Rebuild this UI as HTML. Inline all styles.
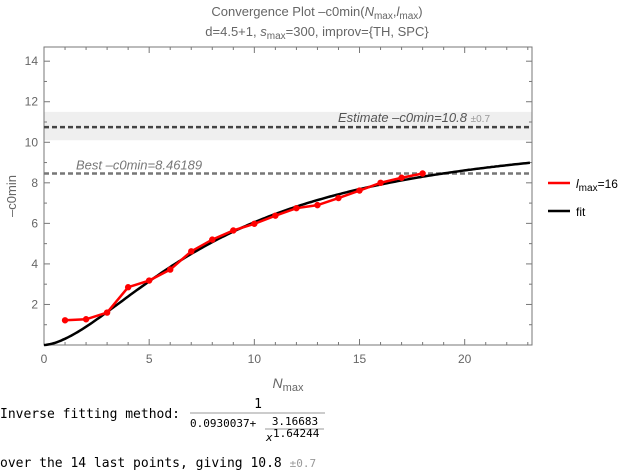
<!DOCTYPE html>
<html><head><meta charset="utf-8"><style>
body{margin:0;background:#fff;width:634px;height:471px;overflow:hidden}
svg text{font-family:"Liberation Sans",sans-serif}
.mono{font-family:"DejaVu Sans Mono","Liberation Mono",monospace;font-size:13px}
</style></head><body>
<svg id="chart" width="634" height="471">
<text x="317" y="16" text-anchor="middle" font-size="13" fill="#666">Convergence Plot –c0min(<tspan font-style="italic">N</tspan><tspan font-size="10" dy="3">max</tspan><tspan dy="-3">,</tspan><tspan font-style="italic">l</tspan><tspan font-size="10" dy="3">max</tspan><tspan dy="-3">)</tspan></text>
<text x="317" y="36" text-anchor="middle" font-size="13" fill="#666">d=4.5+1, <tspan font-style="italic">s</tspan><tspan font-size="10" dy="3">max</tspan><tspan dy="-3">=300, improv={TH, SPC}</tspan></text>
<g id="plot"></g>
<text x="16" y="196" font-size="13" fill="#666" text-anchor="middle" transform="rotate(-90 16 196)">–c0min</text>
<text x="288" y="388" font-size="14" fill="#666" text-anchor="middle"><tspan font-style="italic">N</tspan><tspan font-size="11" dy="3">max</tspan></text>
<g>
<line x1="548" y1="183" x2="570" y2="183" stroke="#f00" stroke-width="2.5"/>
<text x="576" y="188" font-size="12" fill="#000"><tspan font-style="italic">l</tspan><tspan font-size="10" dy="3">max</tspan><tspan dy="-3">=16</tspan></text>
<line x1="548" y1="211" x2="570" y2="211" stroke="#000" stroke-width="2.5"/>
<text x="576" y="216" font-size="12" fill="#000">fit</text>
</g>
<g>
<text x="0" y="418" class="mono">Inverse fitting method:</text>
<text x="258" y="408" class="mono" font-size="11" text-anchor="middle">1</text>
<line x1="190" y1="413" x2="325" y2="413" stroke="#999" stroke-width="1"/>
<text x="190" y="427" class="mono" style="font-size:11px">0.0930037+</text>
<text x="295" y="425" class="mono" style="font-size:11px" text-anchor="middle">3.16683</text>
<line x1="265" y1="429" x2="324" y2="429" stroke="#999" stroke-width="1"/>
<text x="266" y="441" class="mono" style="font-size:11px;font-style:italic">x</text>
<text x="273" y="437" class="mono" style="font-size:11px">1.64244</text>
<text x="0" y="467" class="mono">over the 14 last points, giving 10.8 <tspan fill="#999" style="font-size:11px">±0.7</tspan></text>
</g>
</svg>
<script>
const nValues=[1,2,3,4,5,6,7,8,9,10,11,12,13,14,15,16,17,18];
const c0Values=[1.22,1.27,1.6,2.85,3.18,3.72,4.62,5.2,5.65,5.98,6.38,6.75,6.9,7.25,7.62,8.0,8.25,8.46];
const fitParams=[0.0930037,3.16683,1.64244];
const estimate=[10.8,0.7];
const best=[8.46189];
const xTicks=[0,5,10,15,20];
const yTicks=[2,4,6,8,10,12,14];
const L=44,R=532,T=47,B=345,xMax=23.2,yMax=14.7;
const sx=v=>L+v/xMax*(R-L), sy=v=>B-v/yMax*(B-T);
const NS='http://www.w3.org/2000/svg';
const g=document.getElementById('plot');
function mk(t,a){const e=document.createElementNS(NS,t);for(const k in a)e.setAttribute(k,a[k]);g.appendChild(e);return e;}
let e;
e=mk('rect',{x:L,y:sy(estimate[0]+estimate[1]),width:R-L,height:sy(estimate[0]-estimate[1])-sy(estimate[0]+estimate[1]),fill:'#efefef'});


e=mk('rect',{x:L,y:T,width:R-L,height:B-T,fill:'none',stroke:'#777','stroke-width':1});


for(let v=0;v<=23;v++){const major=v%5==0,len=major?6:3;
 mk('line',{x1:sx(v),y1:B,x2:sx(v),y2:B-len,stroke:'#777'});
 mk('line',{x1:sx(v),y1:T,x2:sx(v),y2:T+len,stroke:'#777'});}
for(let v=1;v<=14;v++){const major=v%2==0,len=major?6:3;
 mk('line',{x1:L,y1:sy(v),x2:L+len,y2:sy(v),stroke:'#777'});
 mk('line',{x1:R,y1:sy(v),x2:R-len,y2:sy(v),stroke:'#777'});}
xTicks.forEach(v=>{e=mk('text',{x:sx(v),y:B+18,'font-size':12,fill:'#666','text-anchor':'middle'});e.textContent=v;

});
yTicks.forEach(v=>{e=mk('text',{x:L-6,y:sy(v)+4,'font-size':12,fill:'#666','text-anchor':'end'});e.textContent=v;

});
e=mk('line',{x1:L,y1:sy(estimate[0]-0.05),x2:R,y2:sy(estimate[0]-0.05),stroke:'#444','stroke-width':2.5,'stroke-dasharray':'5,3'});


e=mk('line',{x1:L,y1:sy(best[0]),x2:R,y2:sy(best[0]),stroke:'#777','stroke-width':2.5,'stroke-dasharray':'5,3'});


e=mk('text',{x:490,y:sy(estimate[0])-4,'font-size':13,fill:'#555','font-style':'italic','text-anchor':'end'});
e.innerHTML='Estimate –c0min='+estimate[0]+' <tspan fill="#999" font-size="10" font-style="normal">±'+estimate[1]+'</tspan>';


e=mk('text',{x:76,y:sy(best[0])-4,'font-size':13,fill:'#777','font-style':'italic'});
e.textContent='Best –c0min='+best[0];


let d='';for(let x=0;x<=xMax;x+=0.1){const y=x<=0?0:1/(fitParams[0]+fitParams[1]/Math.pow(x,fitParams[2]));d+=(d?'L':'M')+sx(x).toFixed(1)+','+sy(y).toFixed(1);}
e=mk('path',{d:d,fill:'none',stroke:'#000','stroke-width':2.5});


e=mk('polyline',{points:nValues.map((n,i)=>sx(n)+','+sy(c0Values[i])).join(' '),fill:'none',stroke:'#f00','stroke-width':2.5});


nValues.forEach((n,i)=>{e=mk('circle',{cx:sx(n),cy:sy(c0Values[i]),r:3.2,fill:'#f00'});

});
</script>
</body></html>
